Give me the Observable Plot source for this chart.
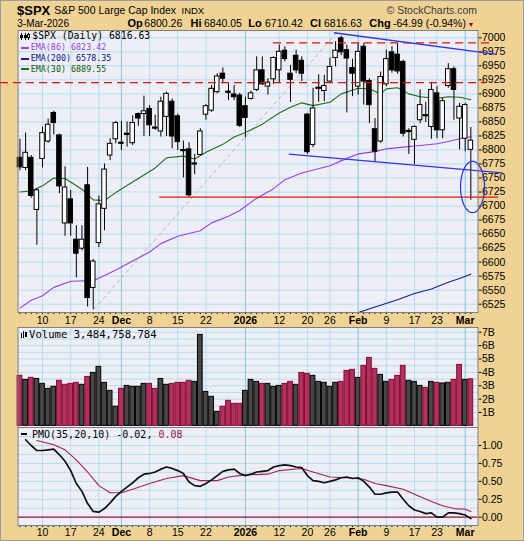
<!DOCTYPE html>
<html>
<head>
<meta charset="utf-8">
<script src="https://cdn.jsdelivr.net/npm/d3@7"></script>
<script src="https://cdn.jsdelivr.net/npm/@observablehq/plot@0.6"></script>
<style>
html, body { margin:0; padding:0; background:#ffffff; }
#chart { position:relative; width:524px; height:541px; background:#F0D394; overflow:hidden;
  font-family:"Liberation Sans", Arial, sans-serif; box-shadow: inset 0 0 0 1px #9c9c9c; }
#chart svg { position:absolute; left:0; }
.t { position:absolute; white-space:nowrap; line-height:1; z-index:5; }
</style>
</head>
<body>
<div id="chart"></div>
<script>
// ---------------- DATA ----------------
const dates = [
"2025-11-04","2025-11-05","2025-11-06","2025-11-07",
"2025-11-10","2025-11-11","2025-11-12","2025-11-13","2025-11-14",
"2025-11-17","2025-11-18","2025-11-19","2025-11-20","2025-11-21",
"2025-11-24","2025-11-25","2025-11-26","2025-11-28",
"2025-12-01","2025-12-02","2025-12-03","2025-12-04","2025-12-05",
"2025-12-08","2025-12-09","2025-12-10","2025-12-11","2025-12-12",
"2025-12-15","2025-12-16","2025-12-17","2025-12-18","2025-12-19",
"2025-12-22","2025-12-23","2025-12-24","2025-12-26",
"2025-12-29","2025-12-30","2025-12-31",
"2026-01-02",
"2026-01-05","2026-01-06","2026-01-07","2026-01-08","2026-01-09",
"2026-01-12","2026-01-13","2026-01-14","2026-01-15","2026-01-16",
"2026-01-20","2026-01-21","2026-01-22","2026-01-23",
"2026-01-26","2026-01-27","2026-01-28","2026-01-29","2026-01-30",
"2026-02-02","2026-02-03","2026-02-04","2026-02-05","2026-02-06",
"2026-02-09","2026-02-10","2026-02-11","2026-02-12","2026-02-13",
"2026-02-17","2026-02-18","2026-02-19","2026-02-20",
"2026-02-23","2026-02-24","2026-02-25","2026-02-26","2026-02-27",
"2026-03-02","2026-03-03"];

const open = [6786,6768,6786,6693,6784,6815,6866,6826,6669,6712,
6640,6624,6737,6554,6634,6695,6790,6819,6813,6829,
6812,6864,6864,6873,6840,6833,6859,6886,6860,6800,
6801,6776,6791,6863,6870,6903,6936,6904,6899,6897,
6878,6891,6907,6942,6913,6926,6942,6977,6936,6968,
6959,6863,6809,6911,6905,6922,6964,6999,6978,6946,
6913,6984,6923,6837,6815,6917,6974,6970,6957,6834,
6818,6853,6862,6841,6901,6835,6914,6944,6856,6820,
6800.26];
const high = [6819,6830,6790,6731,6841,6855,6869,6828,6770,6728,
6665,6665,6769,6605,6718,6775,6820,6851,6851,6850,
6861,6866,6896,6879,6862,6894,6903,6891,6864,6816,
6813,6792,6838,6881,6915,6936,6946,6918,6915,6901,
6894,6905,6966,6966,6927,6966,6987,6984,6951,6978,
6966,6865,6910,6934,6933,6964,6993,7003,6987,6962,
6990,6990,6927,6856,6939,6978,6984,6990,6960,6838,
6843,6907,6885,6919,6913,6892,6954,6948,6883,6883,
6840.05];
const low = [6763,6763,6714,6630,6768,6812,6827,6722,6646,6646,
6572,6620,6520,6515,6626,6656,6781,6811,6799,6805,
6808,6842,6824,6824,6835,6823,6824,6802,6799,6750,
6716,6756,6790,6853,6867,6900,6918,6888,6888,6840,
6822,6889,6904,6915,6898,6917,6919,6957,6885,6936,
6922,6792,6804,6885,6886,6920,6948,6968,6866,6895,
6898,6880,6847,6779,6812,6913,6937,6935,6823,6792,
6774,6847,6849,6819,6820,6820,6910,6853,6800,6797,
6710.42];
const close = [6769,6795,6718,6728,6830,6845,6848,6735,6733,6669,
6615,6640,6536,6601,6703,6765,6811,6848,6812,6828,
6848,6856,6869,6844,6838,6886,6900,6824,6814,6799,
6719,6774,6833,6878,6909,6931,6927,6903,6894,6843,
6857,6901,6942,6917,6920,6964,6975,6962,6925,6942,
6936,6796,6874,6909,6914,6948,6977,6974,6963,6936,
6975,6922,6880,6797,6930,6962,6942,6940,6829,6833,
6841,6880,6860,6907,6835,6887,6944,6907,6877,6880,
6816.63];
const prevClose0 = 6852; // close of the session before the first bar
// volume, billions of shares
const volume = [3.74,3.44,3.59,3.51,3.14,2.77,2.92,3.37,3.07,3.14,
3.22,3.07,3.66,3.96,4.41,3.22,2.62,1.43,2.77,2.99,
2.92,2.92,3.14,3.14,2.77,3.51,3.07,3.14,3.22,3.22,
3.37,3.29,6.80,2.54,2.17,1.05,1.43,1.87,1.65,1.65,
2.62,3.44,3.29,3.14,3.14,2.92,2.99,3.14,3.29,3.07,
3.96,3.89,3.74,3.29,3.22,2.92,3.22,3.29,4.11,4.19,
3.59,4.49,5.08,4.26,3.81,3.29,3.44,3.74,4.49,3.37,
3.29,2.99,2.84,3.29,3.22,3.17,3.22,3.44,4.56,3.44,
3.48];

// moving averages (trading-day index into dates, value)
const ema30Day = [0,2,4,6,8,11,13,15,17,20,24,26,29,31,33,36,38,40,43,46,48,50,52,55,57,60,62,64,65,67,69,71,74,76,78,80];
const ema30Val = [6725,6727,6736,6750,6749,6730,6711,6710,6724,6743,6768,6786,6789,6784,6796,6810,6823,6831,6846,6866,6876,6884,6879,6885,6900,6910,6909,6900,6909,6911,6900,6895,6892,6895,6894,6889.55];
const ema86Day = [0,2,4,6,9,13,15,17,20,23,25,28,32,34,37,39,42,45,47,50,55,58,60,63,65,68,71,74,76,78,80];
const ema86Val = [6518,6532,6540,6555,6566,6567,6576,6586,6602,6618,6633,6646,6656,6670,6682,6692,6714,6731,6747,6759,6772,6785,6793,6797,6802,6805,6808,6811,6815,6820,6823.42];
const ema200Day = [60,63,67,70,73,76,78,80];
const ema200Val = [6510,6520,6533,6544,6552,6564,6571,6578.35];

// PMO(35,20,10): line from day 1, signal sparse
const pmoStartDay = 1;
const pmoVal = [1.08,1.00,0.93,0.93,0.94,0.95,0.87,0.78,0.65,0.47,
0.36,0.19,0.08,0.07,0.12,0.20,0.29,0.36,0.42,0.48,
0.55,0.60,0.61,0.63,0.67,0.70,0.68,0.65,0.61,0.49,
0.44,0.43,0.47,0.52,0.58,0.64,0.66,0.67,0.61,0.58,
0.60,0.63,0.64,0.65,0.70,0.72,0.73,0.72,0.70,0.69,
0.58,0.51,0.50,0.48,0.50,0.52,0.55,0.56,0.54,0.55,
0.50,0.42,0.32,0.32,0.34,0.35,0.35,0.25,0.16,0.10,
0.08,0.05,0.06,0.00,0.00,0.06,0.06,0.05,0.03,-0.02];
const sigDay = [3,6,8,10,12,14,16,18,20,23,26,29,32,35,37,40,44,46,50,52,55,58,61,63,65,68,70,73,75,77,79,80];
const sigVal = [1.07,1.01,0.94,0.80,0.63,0.44,0.34,0.34,0.39,0.47,0.54,0.58,0.51,0.51,0.56,0.59,0.60,0.65,0.68,0.63,0.56,0.55,0.53,0.47,0.44,0.39,0.32,0.22,0.16,0.12,0.11,0.08];

// axis labels
const labelDates = ["2025-11-10","2025-11-17","2025-11-24","2025-12-01","2025-12-08","2025-12-15","2025-12-22","2026-01-02","2026-01-12","2026-01-20","2026-01-26","2026-02-02","2026-02-09","2026-02-17","2026-02-23","2026-03-02"];
const labelText = ["10","17","24","Dec","8","15","22","2026","12","20","26","Feb","9","17","23","Mar"];
const monthLabels = ["Dec","2026","Feb","Mar"];
const priceTicks = d3.range(6525, 7001, 25);
const volTicks = [1,2,3,4,5,6,7];
const pmoTicks = [0, 0.25, 0.5, 0.75, 1.0];

// annotations (day index, price)
const dashPrice = [6991, 6920];
const dashFrom  = [45, -3.45];
const dashTo    = [83.5, 82.6];
const supportPrice = [6716];
const supportFrom = [24.8];
const supportTo = [84.9];
const trendFromDay = [55.7, 47.7];
const trendFromPrice = [7009, 6792.4];
const trendToDay = [84.6, 85.6];
const trendToPrice = [6970.4, 6759.1];
const diagFromDay = [13.1], diagFromPrice = [6515.5], diagToDay = [56.3], diagToPrice = [7010];
const ellipseC = {day: 80.3, price: 6734, rDay: 2.13, rPrice: 45.8};

// ---------------- BUILD ----------------
const candles = dates.map((d, k) => ({
  k, date: d, o: open[k], h: high[k], l: low[k], c: close[k], v: volume[k],
  hollow: close[k] >= open[k],
  down: close[k] < (k ? close[k - 1] : prevClose0)
}));
const labelK = labelDates.map(d => dates.indexOf(d));
const monthK = labelK.filter((k, i) => monthLabels.includes(labelText[i]));
const weekK = labelK.filter((k, i) => !monthLabels.includes(labelText[i]));
const fmtLabel = k => labelText[labelK.indexOf(k)];
const toPts = (days, vals) => days.map((k, i) => ({k, v: vals[i]}));
const ema30 = toPts(ema30Day, ema30Val);
const ema86 = toPts(ema86Day, ema86Val);
const ema200 = toPts(ema200Day, ema200Val);
const pmo = pmoVal.map((v, i) => ({k: pmoStartDay + i, v}));
const sig = toPts(sigDay, sigVal);
const dashes = dashPrice.map((p, i) => ({p, a: dashFrom[i], b: dashTo[i]}));
const supports = supportPrice.map((p, i) => ({p, a: supportFrom[i], b: supportTo[i]}));
const trends = trendFromDay.map((k, i) => ({k1: k, p1: trendFromPrice[i], k2: trendToDay[i], p2: trendToPrice[i]}));
const diag = diagFromDay.map((k, i) => ({k1: k, p1: diagFromPrice[i], k2: diagToDay[i], p2: diagToPrice[i]}));
const ellipsePts = d3.range(0, 361, 6).map(a => ({
  k: ellipseC.day + ellipseC.rDay * Math.cos(a * Math.PI / 180),
  p: ellipseC.price + ellipseC.rPrice * Math.sin(a * Math.PI / 180)
}));

const X_DOMAIN = [-0.35, 81.27];
const PANEL = "#EEEEF6", GRID = "#B4DEEE", GRID_M = "#86C6E6", FRAME = "#808080";
const FONT = '"Liberation Sans", Arial, sans-serif';
const base = {
  width: 524, marginLeft: 17.5, marginRight: 46.5, marginTop: 0,
  color: {type: "identity"},
  style: {background: "transparent", fontFamily: FONT, fontSize: "10.5px", color: "#000", overflow: "visible"}
};
const chart = document.getElementById("chart");

function place(svg, top) {
  svg.style.top = top + "px";
  d3.select(svg).selectAll("text").filter(function () { return monthLabels.includes(this.textContent); })
    .attr("font-weight", "bold");
  chart.appendChild(svg);
}

// Price panel
const priceSvg = Plot.plot({
  ...base, height: 297, marginBottom: 15,
  x: {domain: X_DOMAIN, label: null},
  y: {domain: [6510.2, 7013], label: null},
  marks: [
    Plot.frame({fill: PANEL, stroke: null}),
    Plot.gridY(priceTicks, {stroke: GRID, strokeOpacity: 1}),
    Plot.gridX(weekK, {stroke: GRID, strokeOpacity: 1}),
    Plot.gridX(monthK, {stroke: GRID_M, strokeOpacity: 1}),
    Plot.axisY(priceTicks, {anchor: "right", tickSize: 3, tickPadding: 1, tickFormat: d => String(d)}),
    Plot.axisX(d3.range(dates.length), {anchor: "bottom", tickSize: 2, tickFormat: () => ""}),
    Plot.axisX(labelK, {anchor: "bottom", tickSize: 0, tickPadding: 4, tickFormat: fmtLabel}),
    Plot.link(diag, {x1: "k1", y1: "p1", x2: "k2", y2: "p2", stroke: "#b8b8b8", strokeWidth: 1, strokeDasharray: "4,3"}),
    Plot.line(ema86, {x: "k", y: "v", stroke: "#9B3FE8", strokeWidth: 1.1}),
    Plot.line(ema200, {x: "k", y: "v", stroke: "#1A1A9A", strokeWidth: 1.1, clip: true}),
    Plot.line(ema30, {x: "k", y: "v", stroke: "#1E6E1E", strokeWidth: 1.1}),
    Plot.ruleX(candles, {x: "k", y1: "l", y2: "h", stroke: "#000", strokeWidth: 1}),
    Plot.rect(candles, {x1: d => d.k - 0.4, x2: d => d.k + 0.4, y1: "o", y2: "c",
      fill: d => d.hollow ? "#ffffff" : "#000000", stroke: "#000", strokeWidth: 1}),
    Plot.ruleY(candles.filter(d => Math.abs(d.c - d.o) < 2), {y: "c", x1: d => d.k - 0.45, x2: d => d.k + 0.45, stroke: "#000", strokeWidth: 1.4}),
    Plot.ruleY(dashes, {y: "p", x1: "a", x2: "b", stroke: "#E01010", strokeWidth: 1.4, strokeDasharray: "8,5"}),
    Plot.ruleY(supports, {y: "p", x1: "a", x2: "b", stroke: "#E01010", strokeWidth: 1.3}),
    Plot.link(trends, {x1: "k1", y1: "p1", x2: "k2", y2: "p2", stroke: "#3333F0", strokeWidth: 1.3}),
    Plot.line(ellipsePts, {x: "k", y: "p", stroke: "#2233EE", strokeWidth: 1.2}),
    Plot.frame({stroke: FRAME})
  ]
});
place(priceSvg, 30);

// Volume panel
const volSvg = Plot.plot({
  ...base, height: 100, marginBottom: 0,
  x: {domain: X_DOMAIN, label: null, axis: null},
  y: {domain: [-0.12, 7.354], label: null},
  marks: [
    Plot.frame({fill: PANEL, stroke: null}),
    Plot.gridY(d3.range(0.5, 7.1, 0.5), {stroke: GRID, strokeOpacity: 1}),
    Plot.gridX(weekK, {stroke: GRID, strokeOpacity: 1}),
    Plot.gridX(monthK, {stroke: GRID_M, strokeOpacity: 1}),
    Plot.axisY(volTicks, {anchor: "right", tickSize: 3, tickPadding: 1, tickFormat: d => d + "B"}),
    Plot.rect(candles, {x1: d => d.k - 0.42, x2: d => d.k + 0.42, y1: 0, y2: "v",
      fill: d => d.down ? "#B0325E" : "#474747", stroke: d => d.down ? "#8A0634" : "#000", strokeWidth: 1}),
    Plot.frame({stroke: FRAME})
  ]
});
place(volSvg, 327);

// PMO panel
const pmoSvg = Plot.plot({
  ...base, height: 114, marginBottom: 16,
  x: {domain: X_DOMAIN, label: null},
  y: {domain: [-0.116, 1.251], label: null},
  marks: [
    Plot.frame({fill: PANEL, stroke: null}),
    Plot.gridY(d3.range(-0.125, 1.26, 0.125), {stroke: GRID, strokeOpacity: 1}),
    Plot.gridX(weekK, {stroke: GRID, strokeOpacity: 1}),
    Plot.gridX(monthK, {stroke: GRID_M, strokeOpacity: 1}),
    Plot.axisY(pmoTicks, {anchor: "right", tickSize: 3, tickPadding: 1, tickFormat: d3.format(".2f")}),
    Plot.axisX(d3.range(dates.length), {anchor: "bottom", tickSize: 2, tickFormat: () => ""}),
    Plot.axisX(labelK, {anchor: "bottom", tickSize: 0, tickPadding: 3, tickFormat: fmtLabel}),
    Plot.ruleY([0], {stroke: "#A0103E", strokeWidth: 1.2}),
    Plot.line(sig, {x: "k", y: "v", stroke: "#A8204E", strokeWidth: 1.1}),
    Plot.line(pmo, {x: "k", y: "v", stroke: "#111", strokeWidth: 1.7}),
    Plot.frame({stroke: FRAME})
  ]
});
place(pmoSvg, 427);

// ---------------- TEXT ----------------
function txt(s, x, baseline, size, o = {}) {
  const d = document.createElement("div");
  d.className = "t";
  d.textContent = s;
  d.style.left = x + "px";
  d.style.top = (baseline - 0.846 * size) + "px";
  d.style.fontSize = size + "px";
  if (o.bold) d.style.fontWeight = "bold";
  if (o.color) d.style.color = o.color;
  if (o.font) d.style.fontFamily = o.font;
  chart.appendChild(d);
  return d;
}
function box(x, y, w, h, color, border) {
  const d = document.createElement("div");
  d.style.cssText = `position:absolute;left:${x}px;top:${y}px;width:${w}px;height:${h}px;background:${color};z-index:5;` + (border ? `box-sizing:border-box;border:1px solid ${border};` : "");
  chart.appendChild(d);
}
const MONO = '"DejaVu Sans Mono", "Liberation Mono", monospace';

// header
txt("$SPX", 17, 14.5, 13, {bold: true});
txt("S&P 500 Large Cap Index", 54.3, 14.2, 10.5);
txt("INDX", 181.5, 14.2, 9.5);
txt("\u00A9 StockCharts.com", 386.5, 14.2, 10.5, {color: "#3a3a3a"});
txt("3-Mar-2026", 17.3, 27.3, 10);
txt("Op", 127.5, 27.3, 11, {bold: true});
txt("6800.26", 144.3, 27.3, 10.5);
txt("Hi", 190.5, 27.3, 11, {bold: true});
txt("6840.05", 204, 27.3, 10.5);
txt("Lo", 248.3, 27.3, 11, {bold: true});
txt("6710.42", 265, 27.3, 10.5);
txt("Cl", 310, 27.3, 11, {bold: true});
txt("6816.63", 324, 27.3, 10.5);
txt("Chg", 369.3, 27.3, 11, {bold: true});
txt("-64.99 (-0.94%)", 393, 27.3, 10.5);
txt("\u25BC", 467.5, 27.3, 7, {color: "#990033"});

// price legend
box(21, 33, 1, 7, "#000"); box(20, 34.5, 3, 3, "#000");
box(24.5, 33, 1, 7, "#000"); box(23.5, 35, 3, 3, "#000");
box(28, 32.5, 1, 7, "#000"); box(27, 33.5, 3, 4, "#fff", "#000");
txt("$SPX (Daily) 6816.63", 32.3, 39.5, 9.8, {font: MONO});
box(20.7, 46.7, 8.3, 2, "#9B3FE8");
txt("EMA(86) 6823.42", 30.7, 50.6, 8.4, {font: MONO, color: "#9B3FE8"});
box(20.7, 57.5, 8.3, 2, "#1A1A8A");
txt("EMA(200) 6578.35", 30.7, 61.4, 8.4, {font: MONO, color: "#10108A"});
box(20.7, 68.3, 8.3, 2, "#1E6E1E");
txt("EMA(30) 6889.55", 30.7, 72.2, 8.4, {font: MONO, color: "#106010"});

// volume legend
box(20.5, 333, 1.6, 4.5, "#000"); box(22.8, 331, 1.6, 6.5, "#000"); box(25.1, 332.3, 1.6, 5.2, "#000");
txt("Volume 3,484,758,784", 29, 338.3, 10.6, {font: MONO});

// PMO legend
box(21, 433, 5.5, 2, "#000");
txt("PMO(35,20,10) -0.02,", 32, 438.3, 10, {font: MONO});
txt("0.08", 32 + 21 * 6.02, 438.3, 10, {font: MONO, color: "#A0103E"});
</script>
</body>
</html>
